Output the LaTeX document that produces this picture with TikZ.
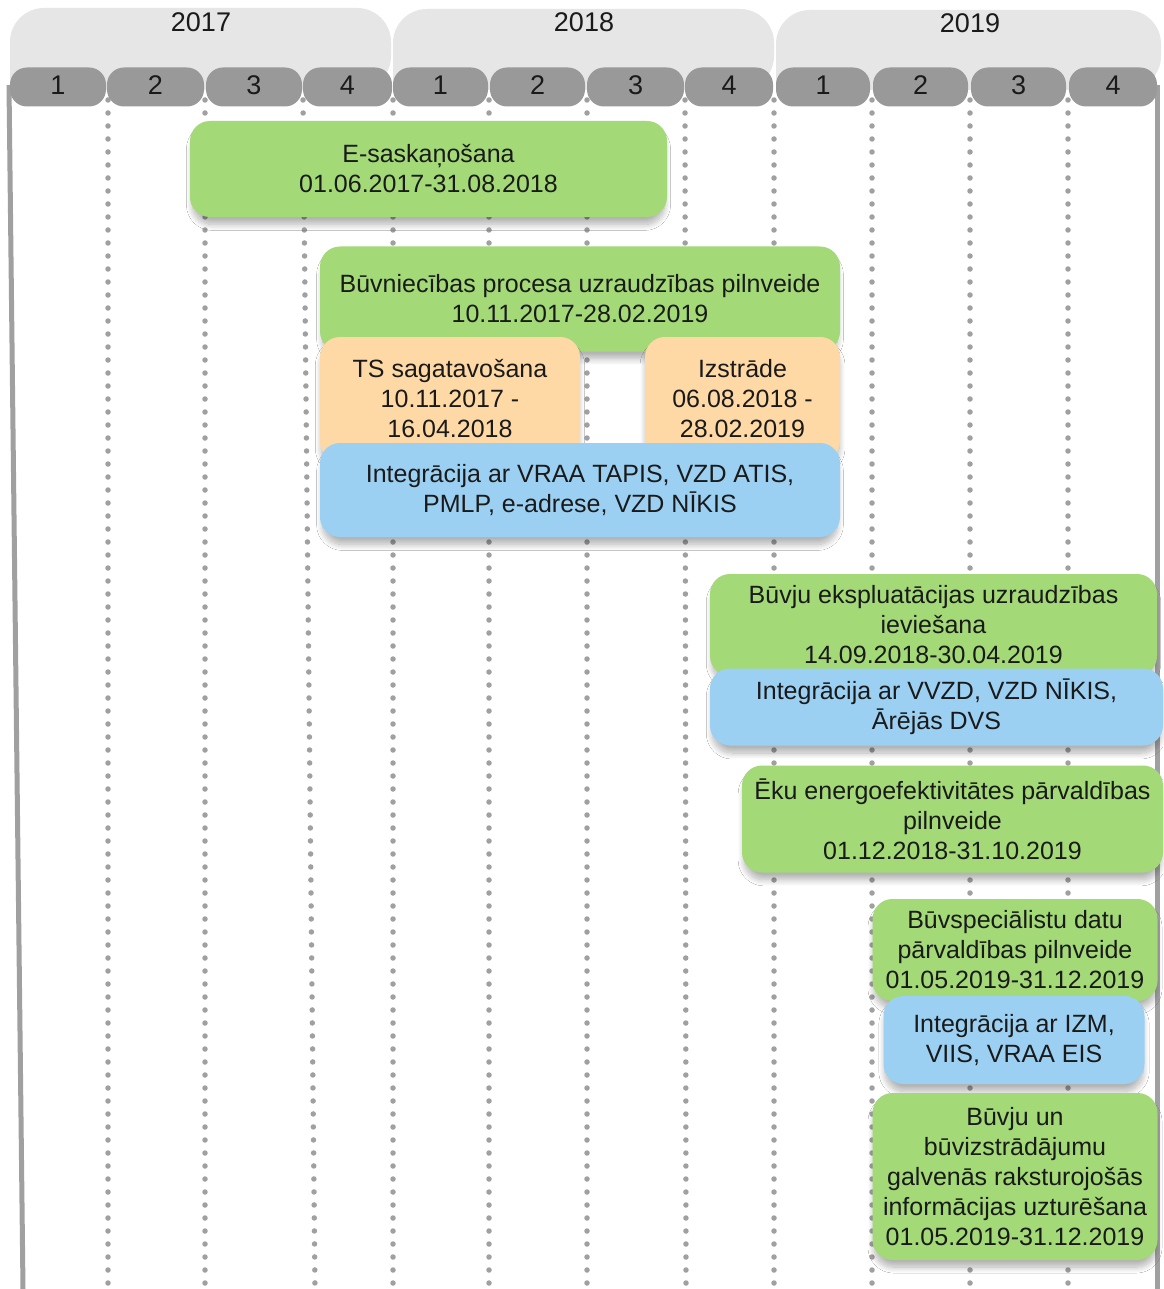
\documentclass[tikz,border=0pt]{standalone}
\usepackage{fontspec}
\setmainfont{Liberation Sans}
\usetikzlibrary{shadows.blur}
\definecolor{gbox}{HTML}{A3D977}
\definecolor{obox}{HTML}{FED9A6}
\definecolor{bbox}{HTML}{9CD0F2}
\definecolor{yband}{HTML}{E6E6E6}
\definecolor{qpill}{HTML}{999999}
\definecolor{gline}{HTML}{A0A0A0}
\definecolor{txt}{HTML}{1A1A1A}
\begin{document}
\begin{tikzpicture}[x=1pt,y=-1pt,
  dotline/.style={draw=gline,line width=5.5pt,dash pattern=on 0pt off 13pt,line cap=round},
  sideline/.style={draw=gline,line width=5pt},
  yearband/.style={fill=yband},
  yearlbl/.style={font=\fontsize{27}{30}\selectfont,text=txt},
  qbox/.style={fill=qpill,rounded corners=17pt,minimum height=39pt,inner sep=0pt,font=\fontsize{27}{30}\selectfont,text=txt},
  task/.style={rounded corners=20pt,inner sep=0pt,align=center,text=txt,
    font=\fontsize{25}{30}\selectfont,
    blur shadow={shadow xshift=0pt,shadow yshift=-8pt,shadow blur radius=6pt,shadow blur steps=12,shadow opacity=30,shadow scale=0.99}},
  gtask/.style={task,fill=gbox},
  otask/.style={task,fill=obox},
  btask/.style={task,fill=bbox}]
\useasboundingbox (0,0) rectangle (1163,1289);
\fill[white] (0,0) rectangle (1163,1289);
% dotted quarter separators
\foreach \xa/\xb in {108/108,205/205,303/315,393/393,489/489,587/587,685/686,774/774,872/872,970/970,1068/1068}
  \draw[dotline] (\xa,100) -- (\xb,1289);
% side lines
\draw[sideline] (9,85) -- (23,1289);
\draw[sideline] (1157,85) -- (1157,1289);
% year bands
\path[yearband,rounded corners=34pt] (10,90) -- (10,8) -- (391,8) -- (391,90) [sharp corners] -- cycle;
\path[yearband,rounded corners=34pt] (393,90) -- (393,9) -- (774,9) -- (774,90) [sharp corners] -- cycle;
\path[yearband,rounded corners=34pt] (776,90) -- (776,10) -- (1161,10) -- (1161,90) [sharp corners] -- cycle;
\node[yearlbl] (y17) at (201,22) {2017};
\node[yearlbl] (y18) at (584,22) {2018};
\node[yearlbl] (y19) at (970,23) {2019};
% quarter pills
\foreach \nm/\cx/\w/\q in {a1/58/96/1,a2/155.5/97/2,a3/254/96/3,a4/347.5/89/4,
  b1/440.5/95/1,b2/537.5/95/2,b3/635.5/97/3,b4/729/88/4,
  c1/823/94/1,c2/920.5/95/2,c3/1018.5/95/3,c4/1113/88/4}
  \node[qbox,minimum width=\w pt] (q\nm) at (\cx,87) {\raisebox{3pt}{\q}};
% tasks
\node[gtask,minimum width=477pt,minimum height=96pt] (esask) at (428.5,169) {E-saskaņošana\\01.06.2017-31.08.2018};
\node[gtask,minimum width=520pt,minimum height=105pt] (buvn) at (580,299) {Būvniecības procesa uzraudzības pilnveide\\10.11.2017-28.02.2019};
\node[otask,minimum width=260pt,minimum height=124pt] (tssag) at (450,399) {TS sagatavošana\\10.11.2017 -\\16.04.2018};
\node[otask,minimum width=195pt,minimum height=124pt] (izstr) at (742.5,399) {Izstrāde\\06.08.2018 -\\28.02.2019};
\node[btask,minimum width=520pt,minimum height=94pt] (int1) at (580,490) {Integrācija ar VRAA TAPIS, VZD ATIS,\\PMLP, e-adrese, VZD NĪKIS};
\node[gtask,minimum width=447pt,minimum height=102pt] (bexp) at (933.5,625) {Būvju ekspluatācijas uzraudzības\\ieviešana\\14.09.2018-30.04.2019};
\node[btask,minimum width=453pt,minimum height=77pt] (int2) at (936.5,707) {Integrācija ar VVZD, VZD NĪKIS,\\Ārējās DVS};
\node[gtask,minimum width=421pt,minimum height=107pt] (eku) at (952.5,819) {Ēku energoefektivitātes pārvaldības\\pilnveide\\01.12.2018-31.10.2019};
\node[gtask,minimum width=285pt,minimum height=102pt] (bspec) at (1015,950) {Būvspeciālistu datu\\pārvaldības pilnveide\\01.05.2019-31.12.2019};
\node[btask,minimum width=261pt,minimum height=88pt] (int3) at (1014,1040) {Integrācija ar IZM,\\VIIS, VRAA EIS};
\node[gtask,minimum width=285pt,minimum height=167pt] (bun) at (1015,1176.5) {Būvju un\\būvizstrādājumu\\galvenās raksturojošās\\informācijas uzturēšana\\01.05.2019-31.12.2019};
\end{tikzpicture}
\end{document}
